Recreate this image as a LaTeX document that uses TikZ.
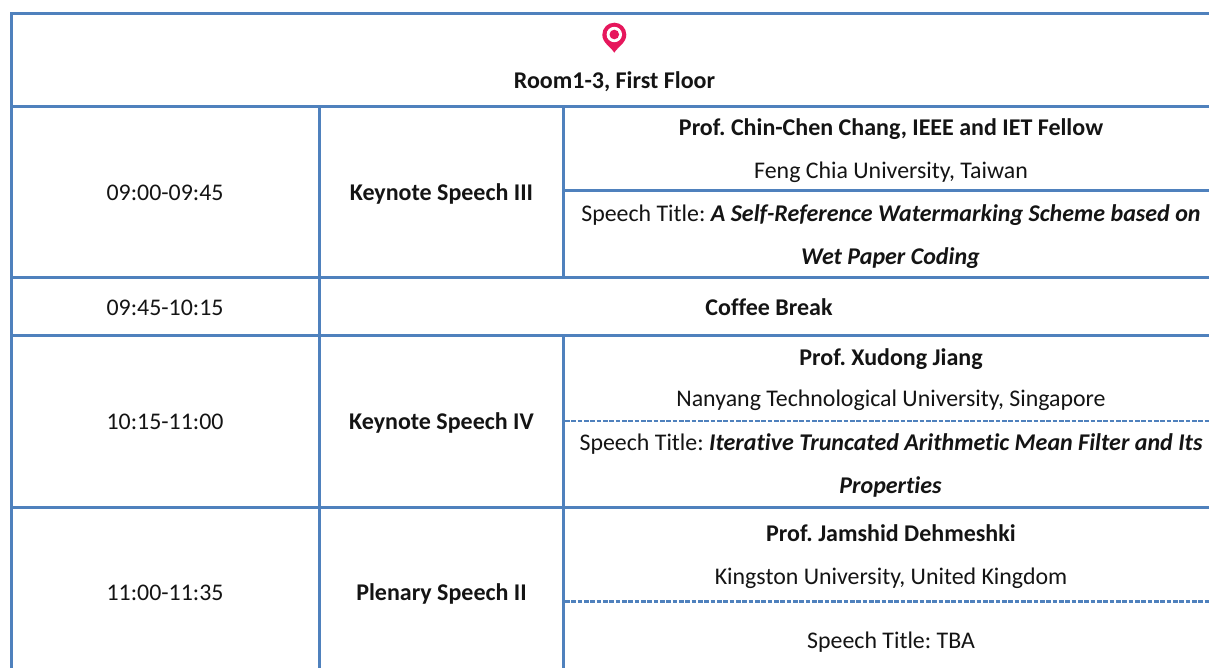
\documentclass[tikz,border=0pt]{standalone}
\usepackage{fontspec}
\setmainfont[Ligatures=NoCommon]{Carlito}
\frenchspacing
\definecolor{rulecol}{HTML}{4F81BD}
\definecolor{pinred}{HTML}{E6175C}
\newcommand{\titletext}[1]{{\fontsize{18}{20}\selectfont\bfseries\itshape #1}}
\tikzset{
  x=0.75pt,y=-0.75pt,
  thick rule/.style={draw=rulecol,line width=2.1pt},
  dash rule/.style={draw=rulecol,line width=1.9pt,dash pattern=on 3.6pt off 1.15pt},
  dash thin/.style={draw=rulecol,line width=1.1pt,dash pattern=on 3.6pt off 1.15pt},
  txt/.style={inner sep=0pt,anchor=base,font=\fontsize{17.9}{20}\selectfont,text=black!92},
  bold txt/.style={txt,font=\fontsize{18}{20}\selectfont\bfseries},
}
\begin{document}
\begin{tikzpicture}
\useasboundingbox (0,0) rectangle (1209,668);
\fill[white] (0,0) rectangle (1209,668);
% table rules
\draw[thick rule] (10,13.5) -- (1209,13.5);
\draw[thick rule] (11.3,12) -- (11.3,668);
\draw[thick rule] (11,106.3) -- (1209,106.3);
\draw[thick rule] (319.3,106) -- (319.3,668);
\draw[thick rule] (563.3,106) -- (563.3,277);
\draw[thick rule] (563.3,336) -- (563.3,668);
\draw[thick rule] (563.3,190.7) -- (1209,190.7);
\draw[thick rule] (11,277.3) -- (1209,277.3);
\draw[thick rule] (11,335.5) -- (1209,335.5);
\draw[dash thin] (565,421) -- (1209,421);
\draw[thick rule] (11,507.3) -- (1209,507.3);
\draw[dash rule] (565,601.3) -- (1209,601.3);
% pin
\fill[pinred] (614.3,52.7) .. controls (611,47) and (602.3,43) .. (602.3,34.7)
  .. controls (602.3,28) and (607.7,22.7) .. (614.3,22.7)
  .. controls (621,22.7) and (626.3,28) .. (626.3,34.7)
  .. controls (626.3,43) and (617.6,47) .. (614.3,52.7) -- cycle;
\fill[white] (614.3,34.5) circle[radius=7.7];
\fill[pinred] (614.3,34.5) circle[radius=4.8];
% text
\node[bold txt] (room) at (614.5,88.5) {Room1-3, First Floor};
\node[txt] (t1) at (165,200) {09:00-09:45};
\node[bold txt] (k3) at (441.5,200) {Keynote Speech III};
\node[bold txt] (p1) at (891,135.7) {Prof. Chin-Chen Chang, IEEE and IET Fellow};
\node[txt] (a1) at (891,178.3) {Feng Chia University, Taiwan};
\node[txt] (s1a) at (891,221.7) {Speech Title: \titletext{A Self-Reference Watermarking Scheme based on}};
\node[bold txt] (s1b) at (890.5,264) {\itshape Wet Paper Coding};
\node[txt] (t2) at (165,315) {09:45-10:15};
\node[bold txt] (cb) at (769,315) {Coffee Break};
\node[txt] (t3) at (165,429.3) {10:15-11:00};
\node[bold txt] (k4) at (441.5,429.3) {Keynote Speech IV};
\node[bold txt] (p2) at (891,365.7) {Prof. Xudong Jiang};
\node[txt] (a2) at (891,406.7) {Nanyang Technological University, Singapore};
\node[txt] (s2a) at (891,450.7) {Speech Title: \titletext{Iterative Truncated Arithmetic Mean Filter and Its}};
\node[bold txt] (s2b) at (890.5,493.3) {\itshape Properties};
\node[txt] (t4) at (165,600.3) {11:00-11:35};
\node[bold txt] (p3l) at (441.5,600.3) {Plenary Speech II};
\node[bold txt] (p3) at (891,541.7) {Prof. Jamshid Dehmeshki};
\node[txt] (a3) at (891,584) {Kingston University, United Kingdom};
\node[txt] (s3) at (891,648.3) {Speech Title: TBA};
\end{tikzpicture}
\end{document}
